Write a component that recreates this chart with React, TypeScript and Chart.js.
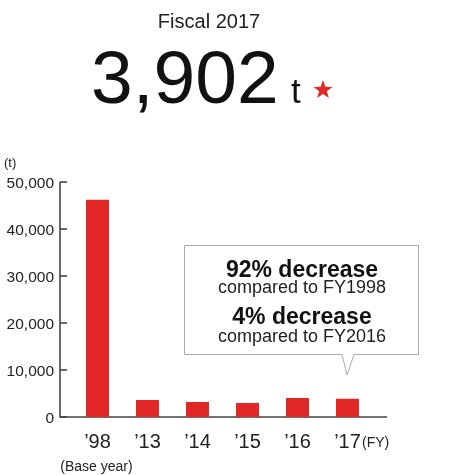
import React, { useEffect, useRef } from "react";
import { Chart, registerables } from "chart.js";

Chart.register(...registerables);

const categories = ["\u201998", "\u201913", "\u201914", "\u201915", "\u201916", "\u201917"];
const values = [46200, 3600, 3200, 3000, 4060, 3902];
const yTicks = [0, 10000, 20000, 30000, 40000, 50000];
const BAR = "#e12826";
const FONT = "Arial, 'Liberation Sans', Helvetica, sans-serif";

const axesPlugin = {
  id: "customAxes",
  beforeDatasetsDraw(chart: any) {
    const { ctx } = chart;
    const x = chart.scales.x;
    const y = chart.scales.y;
    const axisX = 60;
    const endX = 387;
    const y0 = y.getPixelForValue(0);
    const yTop = y.getPixelForValue(50000);
    ctx.save();
    ctx.strokeStyle = "#444";
    ctx.lineWidth = 1.6;
    ctx.beginPath();
    ctx.moveTo(axisX, yTop);
    ctx.lineTo(axisX, y0);
    ctx.lineTo(endX, y0);
    ctx.stroke();
    ctx.fillStyle = "#222";
    ctx.font = `15.5px ${FONT}`;
    ctx.textAlign = "right";
    ctx.textBaseline = "alphabetic";
    yTicks.forEach((t) => {
      const py = y.getPixelForValue(t);
      ctx.beginPath();
      ctx.moveTo(axisX, py);
      ctx.lineTo(axisX + 7, py);
      ctx.stroke();
      ctx.fillText(t.toLocaleString("en-US"), 54, py + 5.5);
    });
    ctx.textAlign = "left";
    ctx.font = `13px ${FONT}`;
    ctx.fillText("(t)", 4, 167);
    ctx.textAlign = "center";
    ctx.font = `20px ${FONT}`;
    categories.forEach((c, i) => {
      ctx.fillText(c, x.getPixelForValue(i), 448);
    });
    ctx.font = `14px ${FONT}`;
    ctx.fillText("(Base year)", x.getPixelForValue(0) - 1, 471);
    ctx.textAlign = "left";
    ctx.fillText("(FY)", 362, 447);
    ctx.restore();
  },
};

export default function App() {
  const ref = useRef<HTMLCanvasElement>(null);
  useEffect(() => {
    if (!ref.current) return;
    const chart = new Chart(ref.current, {
      type: "bar",
      data: {
        labels: categories,
        datasets: [
          {
            data: values,
            backgroundColor: BAR,
            borderWidth: 0,
            barPercentage: 0.46,
            categoryPercentage: 1,
          },
        ],
      },
      options: {
        animation: false,
        responsive: false,
        maintainAspectRatio: false,
        layout: { padding: { left: 72.5, right: 85.5, top: 182, bottom: 58 } },
        plugins: { legend: { display: false }, tooltip: { enabled: false } },
        scales: {
          x: { display: false, offset: true },
          y: { display: false, min: 0, max: 50000 },
        },
      },
      plugins: [axesPlugin],
    });
    return () => chart.destroy();
  }, []);

  const abs = (o: any): React.CSSProperties => ({ position: "absolute", whiteSpace: "nowrap", lineHeight: 1, fontFamily: FONT, ...o });

  return (
    <div style={{ position: "fixed", left: 0, top: 0, width: 458, height: 475, background: "#fff" }}>
      <canvas ref={ref} width={458} height={475} style={{ position: "absolute", left: 0, top: 0 }} />
      <div style={abs({ left: 0, width: 418, textAlign: "center", top: 11, fontSize: 20, color: "#222" })}>Fiscal 2017</div>
      <div style={abs({ left: 91, top: 39.5, fontSize: 75, color: "#111" })}>3,902</div>
      <div style={abs({ left: 291, top: 73.4, fontSize: 35, color: "#111" })}>t</div>
      <svg width={458} height={475} style={{ position: "absolute", left: 0, top: 0 }}>
        <polygon
          points={[0, 1, 2, 3, 4, 5, 6, 7, 8, 9]
            .map((k) => {
              const r = k % 2 === 0 ? 10 : 4;
              const a = -Math.PI / 2 + (k * Math.PI) / 5;
              return `${323 + r * Math.cos(a)},${90 + r * Math.sin(a)}`;
            })
            .join(" ")}
          fill={BAR}
        />
        <path
          d="M184.5 245.5 H418.5 V354.5 H354 L347 375 L342 354.5 H184.5 Z"
          fill="#fff"
          stroke="#aaa"
          strokeWidth={1}
        />
      </svg>
      <div style={abs({ left: 184, width: 236, textAlign: "center", top: 257.5, fontSize: 23, fontWeight: "bold", color: "#111" })}>92% decrease</div>
      <div style={abs({ left: 184, width: 236, textAlign: "center", top: 277.8, fontSize: 18, color: "#222" })}>compared to FY1998</div>
      <div style={abs({ left: 184, width: 236, textAlign: "center", top: 304.5, fontSize: 23, fontWeight: "bold", color: "#111" })}>4% decrease</div>
      <div style={abs({ left: 184, width: 236, textAlign: "center", top: 326.8, fontSize: 18, color: "#222" })}>compared to FY2016</div>
    </div>
  );
}
